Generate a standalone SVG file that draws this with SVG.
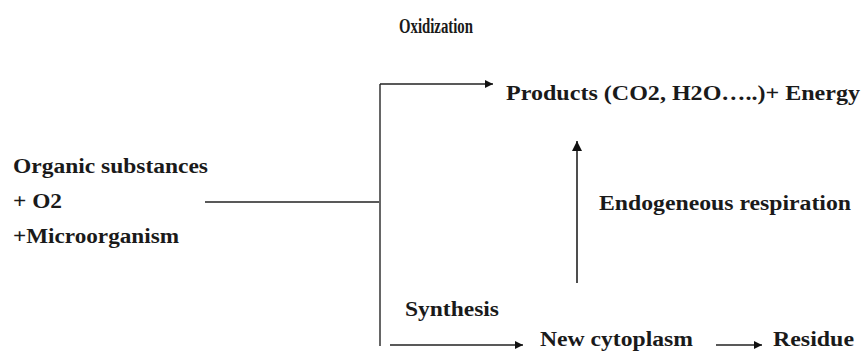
<svg xmlns="http://www.w3.org/2000/svg" width="862" height="351" viewBox="0 0 862 351">
<defs>
<style>
text{font-family:"Liberation Serif","Times New Roman",serif;font-weight:bold;fill:#1a1a1a;font-size:20px}
.ln{stroke:#222;stroke-width:1.6;fill:none}
.gr{stroke:#666;stroke-width:2;fill:none}
</style>
<marker id="ah" viewBox="0 0 10 10" refX="10" refY="5" markerWidth="10" markerHeight="8" markerUnits="userSpaceOnUse" orient="auto">
<path d="M0,0 L10,5 L0,10 z" fill="#111"/>
</marker>
<marker id="ah2" viewBox="0 0 10 10" refX="10" refY="5" markerWidth="11" markerHeight="10" markerUnits="userSpaceOnUse" orient="auto">
<path d="M0,0 L10,5 L0,10 z" fill="#111"/>
</marker>
</defs>
<g id="oxidization"><text x="399" y="33" font-size="25" textLength="74" lengthAdjust="spacingAndGlyphs">Oxidization</text></g>
<g id="products"><text x="506" y="100" textLength="354" lengthAdjust="spacingAndGlyphs">Products (CO2, H2O…..)+ Energy</text></g>
<g id="inputs">
<text x="13" y="173" textLength="195" lengthAdjust="spacingAndGlyphs">Organic substances</text>
<text x="13" y="208" textLength="49" lengthAdjust="spacingAndGlyphs">+ O2</text>
<text x="13" y="243" textLength="166" lengthAdjust="spacingAndGlyphs">+Microorganism</text>
</g>
<g id="endogeneous"><text x="599" y="210" textLength="252" lengthAdjust="spacingAndGlyphs">Endogeneous respiration</text></g>
<g id="synthesis"><text x="405" y="316" textLength="94" lengthAdjust="spacingAndGlyphs">Synthesis</text></g>
<g id="cytoplasm"><text x="540" y="346" textLength="153" lengthAdjust="spacingAndGlyphs">New cytoplasm</text></g>
<g id="residue"><text x="773" y="346" textLength="81" lengthAdjust="spacingAndGlyphs">Residue</text></g>
<g id="connectors">
<line class="ln" x1="205" y1="202" x2="380" y2="202"/>
<line class="gr" x1="380" y1="84" x2="380" y2="346"/>
<path class="ln" d="M380,84 H493" marker-end="url(#ah)"/>
<path class="ln" d="M577,283 V141" marker-end="url(#ah2)"/>
<path class="ln" d="M390,345 H523" marker-end="url(#ah)"/>
<path class="ln" d="M716,345 H762" marker-end="url(#ah)"/>
</g>
</svg>
